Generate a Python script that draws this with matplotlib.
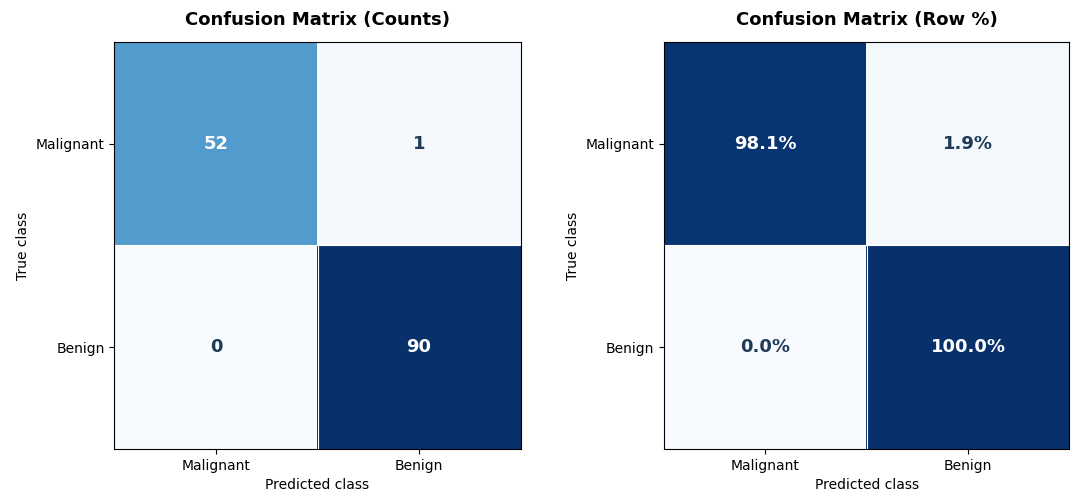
import matplotlib
matplotlib.use("Agg")
import matplotlib.pyplot as plt
import numpy as np

classes = ["Malignant", "Benign"]
counts = np.array([[52, 1], [0, 90]])
row_pct = counts / counts.sum(axis=1, keepdims=True) * 100

fig = plt.figure(figsize=(10.8, 5.04), dpi=100)
ax1 = fig.add_axes([0.106, 0.109, 0.376, 0.808])
ax2 = fig.add_axes([0.615, 0.109, 0.375, 0.808])

def draw(ax, data, labels, title):
    ax.imshow(data, cmap="Blues", aspect="auto")
    thr = data.max() / 2
    for i in range(2):
        for j in range(2):
            ax.text(j, i, labels[i][j], ha="center", va="center", fontsize=13,
                    fontweight="bold", color="white" if data[i, j] > thr else "#1f3a56")
    ax.set_xticks(range(2)); ax.set_xticklabels(classes, fontsize=10)
    ax.set_yticks(range(2)); ax.set_yticklabels(classes, fontsize=10)
    ax.set_xlabel("Predicted class", fontsize=10)
    ax.set_ylabel("True class", fontsize=10)
    ax.set_title(title, fontsize=13, fontweight="bold", pad=12)
    for k in (0.5,):
        ax.axhline(k, color="white", lw=0.8)
        ax.axvline(k, color="white", lw=0.8)

draw(ax1, counts, [[str(v) for v in r] for r in counts], "Confusion Matrix (Counts)")
draw(ax2, row_pct, [[f"{v:.1f}%" for v in r] for r in row_pct], "Confusion Matrix (Row %)")
fig.savefig("out.png", dpi=100)
